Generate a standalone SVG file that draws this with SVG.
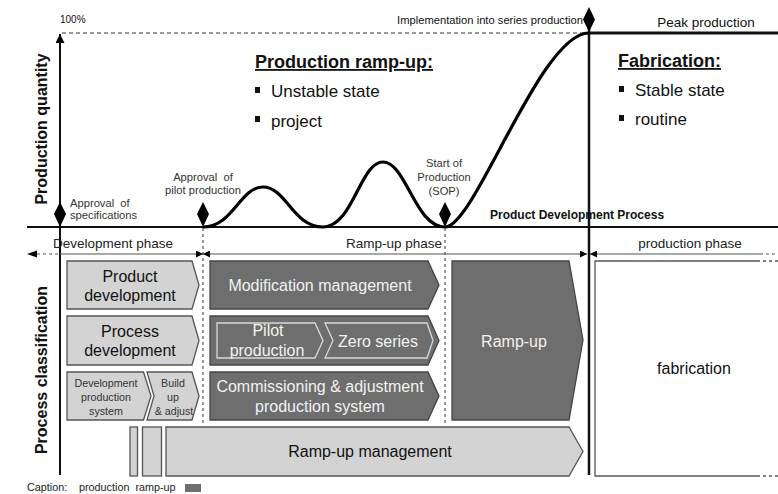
<svg xmlns="http://www.w3.org/2000/svg" width="778" height="494" viewBox="0 0 778 494">
<defs>
<style>
text{font-family:"Liberation Sans",Arial,sans-serif;fill:#111}
.lt{fill:#d3d3d3;stroke:#555;stroke-width:1.3}
.dk{fill:#6e6e6e;stroke:#444;stroke-width:1.3}
.in{fill:none;stroke:#d8d8d8;stroke-width:1.3}
.wt{fill:#f2f2f2}
.b16{font-size:16px}
.sm{font-size:11.2px;fill:#333}
.bx{font-size:10.7px;fill:#333}
.ph{font-size:13.5px;fill:#222}
.big{font-size:18px;font-weight:bold;text-decoration:underline}
.bul{font-size:17px}
.dia{fill:#000}
.vd{stroke:#555;stroke-width:1.2;stroke-dasharray:3,3;fill:none}
.pl{stroke:#555;stroke-width:1.2;fill:none}
.cap{font-size:10.8px;fill:#222}
</style>
<marker id="ah" viewBox="0 0 10 10" refX="10" refY="5" markerWidth="10" markerHeight="7" markerUnits="userSpaceOnUse" orient="auto-start-reverse">
<path d="M0,0L10,5L0,10z" fill="#000"/>
</marker>
<marker id="au" viewBox="0 0 10 10" refX="10" refY="5" markerWidth="11" markerHeight="9" markerUnits="userSpaceOnUse" orient="auto">
<path d="M0,0L10,5L0,10z" fill="#000"/>
</marker>
</defs>
<rect width="778" height="494" fill="#fff"/>

<g id="connectors">
<line x1="60" y1="475" x2="60" y2="34" stroke="#111" stroke-width="2" marker-end="url(#au)"/>
<line x1="27" y1="227" x2="778" y2="227" stroke="#111" stroke-width="2"/>
<line x1="62" y1="33" x2="586" y2="33" stroke="#333" stroke-width="1" stroke-dasharray="4,3"/>
<line x1="589" y1="33" x2="778" y2="33" stroke="#111" stroke-width="3"/>
<line x1="589" y1="18" x2="589" y2="475" stroke="#111" stroke-width="2.5"/>
<path d="M203,227 C233,227 240,187 263,187 C286,187 293,227 323,227 C353,227 360,162 383,162 C406,162 415,227 445,227 C475,227 540,33 589,33" fill="none" stroke="#000" stroke-width="3.2"/>
<line class="vd" x1="203" y1="228" x2="203" y2="425"/>
<line class="vd" x1="445" y1="228" x2="445" y2="425"/>
<line class="pl" x1="37" y1="254" x2="60" y2="254" stroke-dasharray="3,3"/>
<path d="M27,254L37,250.5L37,257.5z" fill="#000"/>
<line class="pl" x1="60" y1="254" x2="203" y2="254" marker-end="url(#ah)"/>
<line class="pl" x1="203" y1="254" x2="587" y2="254" marker-start="url(#ah)" marker-end="url(#ah)"/>
<line class="pl" x1="590" y1="254" x2="760" y2="254" marker-start="url(#ah)"/>
<line class="pl" x1="760" y1="254" x2="778" y2="254" stroke-dasharray="3,3"/>
</g>

<g id="milestones">
<path class="dia" d="M60,202L66,214L60,227L54,214z"/>
<path class="dia" d="M203,202L209,214L203,227L197,214z"/>
<path class="dia" d="M445,202L451,214L445,227L439,214z"/>
<path class="dia" d="M589,7L595,19.5L589,32L583,19.5z"/>
</g>

<g id="chart-labels">
<text x="60" y="23" font-size="10" fill="#222">100%</text>
<text x="583" y="24" font-size="11.2" text-anchor="end" fill="#222">Implementation into series production</text>
<text x="706" y="27" font-size="13.5" text-anchor="middle" fill="#222">Peak production</text>
<text transform="translate(47,129) rotate(-90)" text-anchor="middle" font-size="16" font-weight="bold">Production quantity</text>
<text transform="translate(47,370) rotate(-90)" text-anchor="middle" font-size="16" font-weight="bold">Process classification</text>
<text class="sm" x="70" y="207" xml:space="preserve">Approval  of</text>
<text class="sm" x="70" y="219">specifications</text>
<text class="sm" x="203" y="181" text-anchor="middle" xml:space="preserve">Approval  of</text>
<text class="sm" x="203" y="194" text-anchor="middle">pilot production</text>
<text class="sm" x="444" y="167" text-anchor="middle">Start of</text>
<text class="sm" x="444" y="181" text-anchor="middle">Production</text>
<text class="sm" x="444" y="195" text-anchor="middle">(SOP)</text>
<text x="490" y="219" font-size="12" font-weight="bold">Product Development Process</text>
<text class="big" x="255" y="68">Production ramp-up:</text>
<rect x="255" y="87" width="5" height="6" fill="#111"/>
<text class="bul" x="271" y="97">Unstable state</text>
<rect x="255" y="116" width="5" height="6" fill="#111"/>
<text class="bul" x="271" y="127">project</text>
<text class="big" x="618" y="67">Fabrication:</text>
<rect x="619" y="86" width="5" height="6" fill="#111"/>
<text class="bul" x="635" y="96">Stable state</text>
<rect x="619" y="115" width="5" height="6" fill="#111"/>
<text class="bul" x="635" y="125">routine</text>
<text class="ph" x="53" y="248">Development phase</text>
<text class="ph" x="442" y="248" text-anchor="end">Ramp-up phase</text>
<text class="ph" x="690" y="248" text-anchor="middle">production phase</text>
</g>

<g id="product-development">
<path class="lt" d="M67,261H192L199,285L192,309H67z"/>
<text class="b16" x="130" y="282" text-anchor="middle">Product</text>
<text class="b16" x="130" y="301" text-anchor="middle">development</text>
</g>
<g id="process-development">
<path class="lt" d="M67,316H192L199,340.5L192,365H67z"/>
<text class="b16" x="130" y="337" text-anchor="middle">Process</text>
<text class="b16" x="130" y="356" text-anchor="middle">development</text>
</g>
<g id="development-production-system">
<path class="lt" d="M67,372H143.5L151,396L143.5,420H67z"/>
<text class="bx" x="106" y="387" text-anchor="middle">Development</text>
<text class="bx" x="106" y="401" text-anchor="middle">production</text>
<text class="bx" x="106" y="415" text-anchor="middle">system</text>
</g>
<g id="build-up-adjust">
<path class="lt" d="M147,372H192L199,396L192,420H147L154,396z"/>
<text class="bx" x="173" y="387" text-anchor="middle">Build</text>
<text class="bx" x="173" y="401" text-anchor="middle">up</text>
<text class="bx" x="174" y="415" text-anchor="middle">&amp; adjust</text>
</g>

<g id="modification-management">
<path class="dk" d="M210,261H428L439,285L428,309H210z"/>
<text class="b16 wt" x="320" y="291" text-anchor="middle">Modification management</text>
</g>
<g id="pilot-zero">
<path class="dk" d="M210,316H428L439,340.5L428,365H210z"/>
<path class="in" d="M217,323H315L323,340.5L315,358H217z"/>
<text class="b16 wt" x="268" y="336" text-anchor="middle">Pilot</text>
<text class="b16 wt" x="267" y="356" text-anchor="middle">production</text>
<path class="in" d="M325,323H427L433,340.5L427,358H325L333,340.5z"/>
<text class="b16 wt" x="378" y="347" text-anchor="middle">Zero series</text>
</g>
<g id="commissioning">
<path class="dk" d="M210,372H428L439,396L428,420H210z"/>
<text class="b16 wt" x="320" y="392" text-anchor="middle">Commissioning &amp; adjustment</text>
<text class="b16 wt" x="320" y="412" text-anchor="middle">production system</text>
</g>
<g id="ramp-up">
<path class="dk" d="M452,261H569L583,340L569,420H452z"/>
<text class="b16 wt" x="514" y="347" text-anchor="middle">Ramp-up</text>
</g>

<g id="ramp-up-management">
<rect class="lt" x="130" y="427" width="7.5" height="49"/>
<rect class="lt" x="142.5" y="427" width="19" height="49"/>
<path class="lt" d="M166,427H569L583,451.5L569,476H166z"/>
<text class="b16" x="370" y="457" text-anchor="middle">Ramp-up management</text>
</g>

<g id="fabrication">
<path d="M757,261H595V476H757" fill="none" stroke="#555" stroke-width="1.3"/>
<path d="M757,261H778M757,476H778" fill="none" stroke="#555" stroke-width="1.3" stroke-dasharray="3,3"/>
<text class="b16" x="694" y="374" text-anchor="middle">fabrication</text>
</g>

<g id="caption">
<text class="cap" x="27" y="491">Caption:</text>
<text class="cap" x="79" y="491" xml:space="preserve">production  ramp-up</text>
<rect x="185" y="484" width="16" height="8" fill="#6e6e6e"/>
</g>
</svg>
